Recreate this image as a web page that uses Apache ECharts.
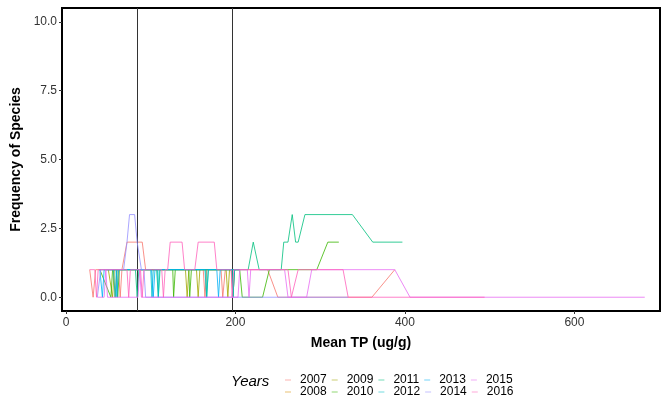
<!DOCTYPE html>
<html>
<head>
<meta charset="utf-8">
<script src="https://cdn.jsdelivr.net/npm/echarts@6/dist/echarts.min.js"></script>
<style>html,body{margin:0;padding:0;background:#fff}#c{width:667px;height:400px}</style>
</head>
<body>
<div id="c"></div>
<script>
const years = ['2007','2008','2009','2010','2011','2012','2013','2014','2015','2016'];
const colors = ['#F8766D','#D89000','#A3A500','#39B600','#00BF7D','#00BFC4','#00B0F6','#9590FF','#E76BF3','#FF62BC'];
const xTicks = [0, 200, 400, 600];
const yTicks = [0, 2.5, 5, 7.5, 10];
const vLines = [84, 196];

const s2007 = [[28,1],[32,0],[35,1],[62,1],[64,0],[66,1],[68,1],[72,2],[90,2],[94,1],[162,1],[164,0],[166,1],[183,1],[185,0],[188,1],[238,1],[250,0],[361,0],[388,1]];
const s2008 = [[45,1],[56,1],[58,0],[60,1],[195,1],[197,0],[199,1],[205,1]];
const s2009 = [[50,1],[55,0],[57,1],[141,1],[143,0],[145,1],[154,1],[156,0],[158,1],[189,1],[191,0],[193,1],[200,1]];
const s2010 = [[40,1],[53,0],[55,1],[60,1],[61,0],[63,1],[126,1],[127,0],[129,1],[145,1],[146,0],[148,1],[205,1],[208,0],[232,0],[240,1],[274,1],[296,1],[309,2],[322,2]];
const s2011 = [[45,1],[82,1],[84,0],[86,1],[107,1],[109,0],[111,1],[165,1],[166,0],[168,1],[196,1],[197,0],[199,1],[215,1],[221,2],[228,1],[254,1],[257,2],[262,2],[267,3],[271,2],[274,2],[282,3],[338,3],[362,2],[397,2]];
const s2012 = [[40,1],[56,1],[58,0],[60,1],[100,1],[101.5,0],[103,1],[108,1],[109,0],[110,1],[164,1],[166,0],[168,1],[196,1],[197,0],[199,1],[205,1]];
const s2013 = [[40,1],[43,0],[45,1],[59,1],[60,0],[62,1],[101,1],[103,0],[105,1],[178,1],[180,0],[182,1],[205,1]];
const s2014 = [[37,0],[41,1],[68,1],[72,2],[75,3],[81,3],[84,2],[86,2],[89,1],[92,1],[94,0],[333,0]];
const s2015 = [[37,0],[45,0],[47,1],[49,0],[85,0],[87,1],[89,0],[203,0],[205,1],[214,1],[216,0],[218,1],[258,1],[262,0],[284,0],[290,1],[388,1],[406,0],[683,0]];
const s2016 = [[28,1],[34,1],[36,0],[38,1],[72,1],[74,0],[76,1],[88,1],[90,0],[92,1],[113,1],[115,0],[117,1],[120,1],[123,2],[137,2],[140,1],[152,1],[156,2],[175,2],[178,1],[195,1],[196,0],[198,1],[262,1],[266,0],[268,0],[274,1],[327,1],[333,0],[494,0]];
const seriesData = [s2007,s2008,s2009,s2010,s2011,s2012,s2013,s2014,s2015,s2016];

const series = years.map((y, i) => ({
  name: y,
  type: 'line',
  data: seriesData[i],
  symbol: 'none',
  showSymbol: false,
  silent: true,
  itemStyle: { color: colors[i] },
  lineStyle: { color: colors[i], width: 1, opacity: 0.8 },
  z: 2 + i
}));
series.push({
  type: 'line',
  data: [],
  silent: true,
  markLine: {
    silent: true,
    symbol: 'none',
    label: { show: false },
    lineStyle: { color: '#333', width: 1, type: 'solid' },
    data: vLines.map(v => ({ xAxis: v }))
  },
  z: 20
});

const legendBase = {
  orient: 'horizontal',
  icon: 'rect',
  itemWidth: 6,
  itemHeight: 1,
  itemGap: 5,
  itemStyle: { opacity: 0.55 },
  selectedMode: false,
  textStyle: { fontSize: 12, color: '#000', fontFamily: 'Liberation Sans', padding: [0,0,0,4] }
};

const chart = echarts.init(document.getElementById('c'), null, { renderer: 'canvas' });
chart.setOption({
  animation: false,
  backgroundColor: '#fff',
  grid: { left: 62, top: 8, width: 598, height: 303, show: true, borderColor: '#000', borderWidth: 2, backgroundColor: 'transparent', containLabel: false },
  xAxis: {
    type: 'value', min: -4.7, max: 701,
    name: 'Mean TP (ug/g)', nameLocation: 'middle', nameGap: 25,
    nameTextStyle: { fontSize: 14, fontWeight: 'bold', color: '#000', fontFamily: 'Liberation Sans' },
    splitLine: { show: false },
    axisLine: { show: false, onZero: false },
    axisTick: { show: true, length: 3, lineStyle: { color: '#333' }, customValues: xTicks },
    axisLabel: { fontSize: 12, color: '#333', margin: 6, fontFamily: 'Liberation Sans', customValues: xTicks }
  },
  yAxis: {
    type: 'value', min: -0.5, max: 10.5,
    name: 'Frequency of Species', nameLocation: 'middle', nameGap: 36,
    nameTextStyle: { fontSize: 14, fontWeight: 'bold', color: '#000', fontFamily: 'Liberation Sans' },
    splitLine: { show: false },
    axisLine: { show: false, onZero: false },
    axisTick: { show: true, length: 3, lineStyle: { color: '#333' }, customValues: yTicks },
    axisLabel: { fontSize: 12, color: '#333', margin: 5, fontFamily: 'Liberation Sans', customValues: yTicks, formatter: v => v.toFixed(1) }
  },
  legend: [
    Object.assign({}, legendBase, { left: 280, top: 369, data: ['2007','2009','2011','2013','2015'] }),
    Object.assign({}, legendBase, { left: 280, top: 381, data: ['2008','2010','2012','2014','2016'] })
  ],
  graphic: [{
    type: 'text', left: 231, top: 374,
    style: { text: 'Years', fontSize: 15, fontStyle: 'italic', fill: '#000', fontFamily: 'Liberation Sans' }
  }],
  series: series
});
</script>
</body>
</html>
